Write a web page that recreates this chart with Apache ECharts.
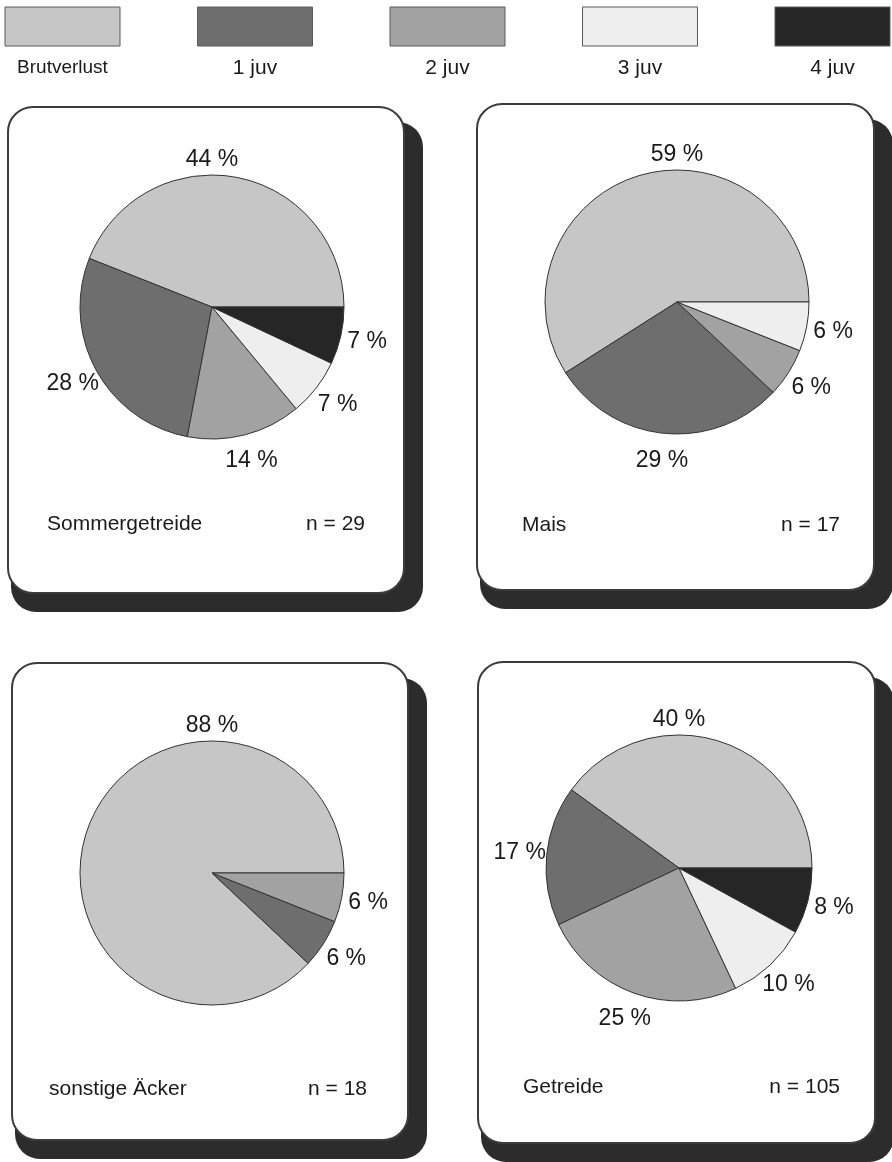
<!DOCTYPE html>
<html>
<head>
<meta charset="utf-8">
<script src="https://cdn.jsdelivr.net/npm/echarts@6/dist/echarts.min.js"></script>
<style>
  html, body { margin: 0; padding: 0; background: #ffffff; }
  #chart { width: 892px; height: 1162px; }
</style>
</head>
<body>
<div id="chart"></div>
<script>
// Outcome classes of the broods (legend order = slice order)
const categories = ['Brutverlust', '1 juv', '2 juv', '3 juv', '4 juv'];

// Panel captions and sample sizes
const panelTitles = ['Sommergetreide', 'Mais', 'sonstige Äcker', 'Getreide'];
const sampleSizes = [29, 17, 18, 105];

// Shares in percent per habitat, in category order
const sommergetreide = [44, 28, 14, 7, 7];
const mais = [59, 29, 6, 6, 0];
const sonstigeAecker = [88, 6, 6, 0, 0];
const getreide = [40, 17, 25, 10, 8];
const shares = [sommergetreide, mais, sonstigeAecker, getreide];

// ---- styling / layout ----
const colors = ['#c6c6c6', '#6e6e6e', '#a2a2a2', '#eeeeee', '#262626'];
const FONT = '"Liberation Sans", Arial, Helvetica, sans-serif';

const panels = [
  { x: 8,   y: 107, w: 396, h: 486, cx: 212, cy: 307, r: 132, tx: 47,  nx: 365, base: 532 },
  { x: 477, y: 104, w: 397, h: 486, cx: 677, cy: 302, r: 132, tx: 522, nx: 840, base: 533 },
  { x: 12,  y: 663, w: 396, h: 477, cx: 212, cy: 873, r: 132, tx: 49,  nx: 367, base: 1097 },
  { x: 478, y: 662, w: 397, h: 481, cx: 679, cy: 868, r: 133, tx: 523, nx: 840, base: 1095 }
];

const graphics = [];

// Legend: a swatch per category with its name underneath
categories.forEach((name, i) => {
  const lx = 5 + i * 192.5;
  graphics.push({
    type: 'rect',
    shape: { x: lx, y: 7, width: 115, height: 39 },
    style: { fill: colors[i], stroke: '#5a5a5a', lineWidth: 1 }
  });
  graphics.push({
    type: 'text',
    x: lx + 57.5, y: 68,
    style: {
      text: name, fill: '#1a1a1a', font: (i === 0 ? 19 : 21) + 'px ' + FONT,
      align: 'center', verticalAlign: 'middle'
    }
  });
});

// Framed cards, each with a heavy dark shadow to the lower right
panels.forEach((p, k) => {
  graphics.push({
    type: 'rect',
    shape: { x: p.x + 3, y: p.y + 15, width: p.w + 16, height: p.h + 4, r: 25 },
    style: { fill: '#2c2c2c' }
  });
  graphics.push({
    type: 'rect',
    shape: { x: p.x, y: p.y, width: p.w, height: p.h, r: 25 },
    style: { fill: '#ffffff', stroke: '#3c3c3c', lineWidth: 2 }
  });
  graphics.push({
    type: 'text',
    x: p.tx, y: p.base - 7.5,
    style: { text: panelTitles[k], fill: '#1a1a1a', font: '21px ' + FONT, align: 'left', verticalAlign: 'middle' }
  });
  graphics.push({
    type: 'text',
    x: p.nx, y: p.base - 7.5,
    style: { text: 'n = ' + sampleSizes[k], fill: '#1a1a1a', font: '21px ' + FONT, align: 'right', verticalAlign: 'middle' }
  });
});

// One pie per habitat, counter-clockwise from 3 o'clock
const series = shares.map((vals, k) => {
  const p = panels[k];
  const data = categories
    .map((name, i) => ({ name: name, value: vals[i], itemStyle: { color: colors[i] } }))
    .filter(d => d.value > 0);
  const total = data.reduce((a, d) => a + d.value, 0);

  return {
    type: 'pie',
    center: [p.cx, p.cy],
    radius: p.r,
    startAngle: 0,
    clockwise: false,
    avoidLabelOverlap: false,
    data: data,
    itemStyle: { borderColor: '#333333', borderWidth: 1 },
    emphasis: { disabled: true },
    label: {
      show: true,
      position: 'outside',
      formatter: '{c} %',
      color: '#1a1a1a',
      fontFamily: FONT,
      fontSize: 23
    },
    labelLine: { show: false },
    // largest share is labelled above the pie, the others beside the middle of their slice
    labelLayout: function (params) {
      const i = params.dataIndex;
      if (i === 0) {
        return { x: p.cx, y: p.cy - p.r - 15, align: 'center', verticalAlign: 'middle' };
      }
      let before = 0;
      for (let j = 0; j < i; j++) before += data[j].value;
      const mid = (before + data[i].value / 2) / total * 2 * Math.PI;
      const d = p.r + 27;
      return {
        x: p.cx + d * Math.cos(mid),
        y: p.cy - d * Math.sin(mid),
        align: 'center',
        verticalAlign: 'middle'
      };
    }
  };
});

const chart = echarts.init(document.getElementById('chart'), null, { renderer: 'canvas' });
chart.setOption({
  animation: false,
  backgroundColor: '#ffffff',
  graphic: { elements: graphics },
  series: series
});
</script>
</body>
</html>
